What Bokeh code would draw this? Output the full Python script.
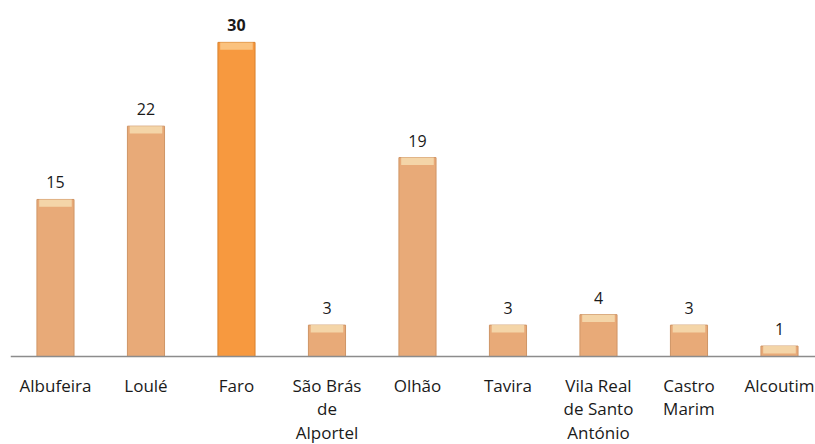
from bokeh.plotting import figure
from bokeh.models import ColumnDataSource, Span, Range1d
from bokeh.core.properties import value
from bokeh.embed import file_html
from bokeh.resources import INLINE

categories = ["Albufeira", "Loulé", "Faro", "São Brás\nde\nAlportel", "Olhão",
              "Tavira", "Vila Real\nde Santo\nAntónio", "Castro\nMarim", "Alcoutim"]
values = [15, 22, 30, 3, 19, 3, 4, 3, 1]
highlight = "Faro"

xs = list(range(len(categories)))
colors = ["#F7993F" if c == highlight else "#E8AA78" for c in categories]
edges = ["#D9822E" if c == highlight else "#CF9566" for c in categories]
tops_light = ["#FBC98A" if c == highlight else "#F6DDB0" for c in categories]
styles = ["bold" if c == highlight else "normal" for c in categories]

src = ColumnDataSource(dict(
    x=xs, top=values, color=colors, edge=edges, light=tops_light,
    hl_bottom=[max(v - 0.7, 0) for v in values],
    label=[str(v) for v in values],
    label_y=[v + 1.05 for v in values],
    style=styles,
    cat=categories,
    cat_y=[-1.65] * len(categories),
))

p = figure(width=815, height=444, output_backend="svg", toolbar_location=None,
           x_range=Range1d(-0.497, 8.398), y_range=Range1d(-8.40, 34.0),
           min_border_left=10, min_border_right=0, min_border_top=0, min_border_bottom=0)
p.xaxis.visible = False
p.yaxis.visible = False
p.xgrid.visible = False
p.ygrid.visible = False
p.outline_line_color = None

p.vbar(x="x", top="top", bottom=0, width=0.41, fill_color="color", line_color="edge",
       line_width=1, source=src)
p.vbar(x="x", top="top", bottom="hl_bottom", width=0.36, fill_color="light",
       line_color=None, fill_alpha=0.85, source=src)

p.add_layout(Span(location=0, dimension="width", line_color="#8C8C8C", line_width=1.5))

p.text(x="x", y="label_y", text="label", text_align="center", text_baseline="bottom",
       text_font=value("Open Sans"), text_font_size="16px", text_font_style="style",
       text_color="#1A1A1A", source=src)
p.text(x="x", y="cat_y", text="cat", text_align="center", text_baseline="top",
       text_font=value("Open Sans"), text_font_size="17px", text_color="#1A1A1A",
       text_line_height=1.02, source=src)

open("out.html", "w").write(file_html(p, INLINE))
